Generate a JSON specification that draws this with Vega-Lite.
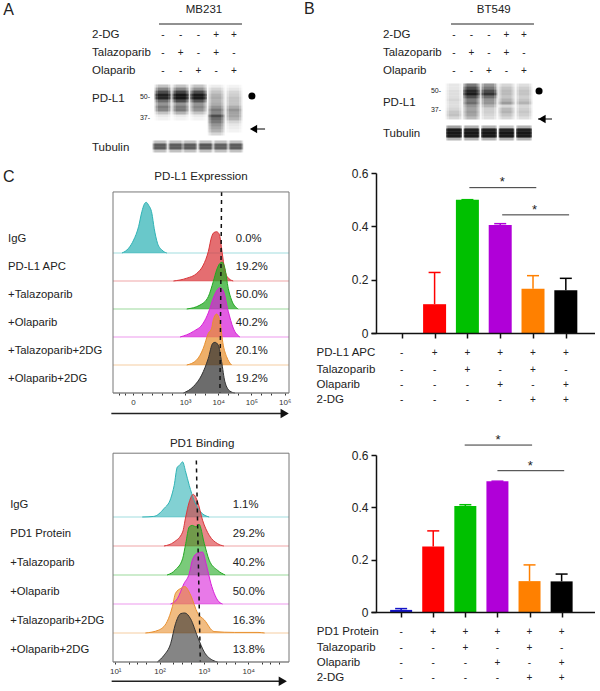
{"$schema":"https://vega.github.io/schema/vega-lite/v6.json","padding":{"left":3,"top":0,"right":0,"bottom":0},"background":"white","bounds":"flush","columns":2,"spacing":{"row":122,"column":82},"resolve":{"scale":{"color":"independent","opacity":"independent"}},"config":{"font":"Liberation Sans","view":{"stroke":null},"text":{"color":"#222"}},
"datasets":{
"blotA":[
{"x":1,"y":28.67,"v":0.15},{"x":2,"y":28.67,"v":0.15},{"x":3,"y":28.67,"v":0.15},{"x":4,"y":28.67,"v":0.04},{"x":5,"y":28.67,"v":0.03},
{"x":1,"y":29.67,"v":0.35},{"x":2,"y":29.67,"v":0.35},{"x":3,"y":29.67,"v":0.3},{"x":4,"y":29.67,"v":0.1},{"x":5,"y":29.67,"v":0.06},
{"x":1,"y":30.67,"v":0.6},{"x":2,"y":30.67,"v":0.65},{"x":3,"y":30.67,"v":0.6},{"x":4,"y":30.67,"v":0.15},{"x":5,"y":30.67,"v":0.1},
{"x":1,"y":31.67,"v":0.9},{"x":2,"y":31.67,"v":1},{"x":3,"y":31.67,"v":0.95},{"x":4,"y":31.67,"v":0.2},{"x":5,"y":31.67,"v":0.12},
{"x":1,"y":32.67,"v":0.85},{"x":2,"y":32.67,"v":1},{"x":3,"y":32.67,"v":0.95},{"x":4,"y":32.67,"v":0.22},{"x":5,"y":32.67,"v":0.15},
{"x":1,"y":33.67,"v":0.45},{"x":2,"y":33.67,"v":0.6},{"x":3,"y":33.67,"v":0.55},{"x":4,"y":33.67,"v":0.2},{"x":5,"y":33.67,"v":0.15},
{"x":1,"y":34.67,"v":0.3},{"x":2,"y":34.67,"v":0.3},{"x":3,"y":34.67,"v":0.3},{"x":4,"y":34.67,"v":0.22},{"x":5,"y":34.67,"v":0.15},
{"x":1,"y":35.67,"v":0.4},{"x":2,"y":35.67,"v":0.4},{"x":3,"y":35.67,"v":0.35},{"x":4,"y":35.67,"v":0.3},{"x":5,"y":35.67,"v":0.22},
{"x":1,"y":36.67,"v":0.35},{"x":2,"y":36.67,"v":0.4},{"x":3,"y":36.67,"v":0.3},{"x":4,"y":36.67,"v":0.4},{"x":5,"y":36.67,"v":0.3},
{"x":1,"y":37.67,"v":0.15},{"x":2,"y":37.67,"v":0.2},{"x":3,"y":37.67,"v":0.15},{"x":4,"y":37.67,"v":0.35},{"x":5,"y":37.67,"v":0.25},
{"x":1,"y":38.67,"v":0.05},{"x":2,"y":38.67,"v":0.05},{"x":3,"y":38.67,"v":0.05},{"x":4,"y":38.67,"v":0.6},{"x":5,"y":38.67,"v":0.25},
{"x":1,"y":39.67,"v":0.03},{"x":2,"y":39.67,"v":0.03},{"x":3,"y":39.67,"v":0.03},{"x":4,"y":39.67,"v":0.45},{"x":5,"y":39.67,"v":0.2},
{"x":4,"y":40.67,"v":0.4},{"x":5,"y":40.67,"v":0.1},
{"x":4,"y":41.67,"v":0.3},{"x":5,"y":41.67,"v":0.06},
{"x":4,"y":42.67,"v":0.25},{"x":5,"y":42.67,"v":0.04},
{"x":4,"y":43.67,"v":0.2},{"x":5,"y":43.67,"v":0.03},
{"x":4,"y":44.67,"v":0.1}],
"tubA":[
{"x":0.83,"y":47.33,"v":0.16},{"x":1.71,"y":47.33,"v":0.16},{"x":2.52,"y":47.33,"v":0.16},{"x":3.4,"y":47.33,"v":0.16},{"x":4.25,"y":47.33,"v":0.16},{"x":5.1,"y":47.33,"v":0.16},
{"x":0.83,"y":48.33,"v":0.52},{"x":1.71,"y":48.33,"v":0.52},{"x":2.52,"y":48.33,"v":0.52},{"x":3.4,"y":48.33,"v":0.55},{"x":4.25,"y":48.33,"v":0.5},{"x":5.1,"y":48.33,"v":0.52},
{"x":0.83,"y":49.33,"v":0.52},{"x":1.71,"y":49.33,"v":0.52},{"x":2.52,"y":49.33,"v":0.52},{"x":3.4,"y":49.33,"v":0.52},{"x":4.25,"y":49.33,"v":0.5},{"x":5.1,"y":49.33,"v":0.52},
{"x":0.83,"y":50.33,"v":0.16},{"x":1.71,"y":50.33,"v":0.16},{"x":2.52,"y":50.33,"v":0.16},{"x":3.4,"y":50.33,"v":0.16},{"x":4.25,"y":50.33,"v":0.16},{"x":5.1,"y":50.33,"v":0.16}],
"blotB":[
{"x":1,"y":28.33,"v":0.06},{"x":2,"y":28.33,"v":0.4},{"x":3,"y":28.33,"v":0.3},{"x":4,"y":28.33,"v":0.1},{"x":5,"y":28.33,"v":0.08},
{"x":1,"y":29.33,"v":0.06},{"x":2,"y":29.33,"v":0.6},{"x":3,"y":29.33,"v":0.4},{"x":4,"y":29.33,"v":0.15},{"x":5,"y":29.33,"v":0.12},
{"x":1,"y":30.33,"v":0.08},{"x":2,"y":30.33,"v":0.85},{"x":3,"y":30.33,"v":0.6},{"x":4,"y":30.33,"v":0.18},{"x":5,"y":30.33,"v":0.15},
{"x":1,"y":31.33,"v":0.08},{"x":2,"y":31.33,"v":0.95},{"x":3,"y":31.33,"v":0.75},{"x":4,"y":31.33,"v":0.18},{"x":5,"y":31.33,"v":0.15},
{"x":1,"y":32.33,"v":0.08},{"x":2,"y":32.33,"v":0.6},{"x":3,"y":32.33,"v":0.45},{"x":4,"y":32.33,"v":0.15},{"x":5,"y":32.33,"v":0.12},
{"x":1,"y":33.33,"v":0.1},{"x":2,"y":33.33,"v":0.4},{"x":3,"y":33.33,"v":0.3},{"x":4,"y":33.33,"v":0.2},{"x":5,"y":33.33,"v":0.15},
{"x":1,"y":34.33,"v":0.08},{"x":2,"y":34.33,"v":0.45},{"x":3,"y":34.33,"v":0.3},{"x":4,"y":34.33,"v":0.28},{"x":5,"y":34.33,"v":0.2},
{"x":1,"y":35.33,"v":0.08},{"x":2,"y":35.33,"v":0.3},{"x":3,"y":35.33,"v":0.2},{"x":4,"y":35.33,"v":0.1},{"x":5,"y":35.33,"v":0.1},
{"x":1,"y":36.33,"v":0.1},{"x":2,"y":36.33,"v":0.25},{"x":3,"y":36.33,"v":0.12},{"x":4,"y":36.33,"v":0.18},{"x":5,"y":36.33,"v":0.12},
{"x":1,"y":37.33,"v":0.14},{"x":2,"y":37.33,"v":0.28},{"x":3,"y":37.33,"v":0.12},{"x":4,"y":37.33,"v":0.2},{"x":5,"y":37.33,"v":0.14},
{"x":1,"y":38.33,"v":0.16},{"x":2,"y":38.33,"v":0.25},{"x":3,"y":38.33,"v":0.1},{"x":4,"y":38.33,"v":0.15},{"x":5,"y":38.33,"v":0.12},
{"x":1,"y":39.33,"v":0.1},{"x":2,"y":39.33,"v":0.18},{"x":3,"y":39.33,"v":0.08},{"x":4,"y":39.33,"v":0.1},{"x":5,"y":39.33,"v":0.08}],
"tubB":[
{"x":1,"y":42.33,"v":0.25},{"x":2,"y":42.33,"v":0.2},{"x":3,"y":42.33,"v":0.2},{"x":4,"y":42.33,"v":0.15},{"x":5,"y":42.33,"v":0.2},
{"x":1,"y":43.33,"v":0.95},{"x":2,"y":43.33,"v":0.9},{"x":3,"y":43.33,"v":0.9},{"x":4,"y":43.33,"v":0.85},{"x":5,"y":43.33,"v":0.9},
{"x":1,"y":44.33,"v":1},{"x":2,"y":44.33,"v":1},{"x":3,"y":44.33,"v":1},{"x":4,"y":44.33,"v":1},{"x":5,"y":44.33,"v":1},
{"x":1,"y":45.33,"v":0.95},{"x":2,"y":45.33,"v":0.95},{"x":3,"y":45.33,"v":0.95},{"x":4,"y":45.33,"v":0.95},{"x":5,"y":45.33,"v":0.95},
{"x":1,"y":46.33,"v":0.2},{"x":2,"y":46.33,"v":0.2},{"x":3,"y":46.33,"v":0.2},{"x":4,"y":46.33,"v":0.2},{"x":5,"y":46.33,"v":0.2}],
"signs":[
{"x":1,"y":11.67,"t":"-"},{"x":2,"y":11.67,"t":"-"},{"x":3,"y":11.67,"t":"-"},{"x":4,"y":11.67,"t":"+"},{"x":5,"y":11.67,"t":"+"},
{"x":1,"y":17.57,"t":"-"},{"x":2,"y":17.57,"t":"+"},{"x":3,"y":17.57,"t":"-"},{"x":4,"y":17.57,"t":"+"},{"x":5,"y":17.57,"t":"-"},
{"x":1,"y":23.57,"t":"-"},{"x":2,"y":23.57,"t":"-"},{"x":3,"y":23.57,"t":"+"},{"x":4,"y":23.57,"t":"-"},{"x":5,"y":23.57,"t":"+"}],
"histA":[
{"s":"a","x":1.1,"y":5,"y2":5},{"s":"a","x":1.3,"y":5.17,"y2":5},{"s":"a","x":1.45,"y":5.46,"y2":5},{"s":"a","x":1.6,"y":5.94,"y2":5},{"s":"a","x":1.7,"y":6.48,"y2":5},{"s":"a","x":1.77,"y":6.74,"y2":5},{"s":"a","x":1.83,"y":6.81,"y2":5},{"s":"a","x":1.9,"y":6.71,"y2":5},{"s":"a","x":2,"y":6.42,"y2":5},{"s":"a","x":2.07,"y":5.88,"y2":5},{"s":"a","x":2.17,"y":5.35,"y2":5},{"s":"a","x":2.3,"y":5.11,"y2":5},{"s":"a","x":2.45,"y":5,"y2":5},
{"s":"b","x":2.65,"y":4,"y2":4},{"s":"b","x":3.05,"y":4.1,"y2":4},{"s":"b","x":3.35,"y":4.27,"y2":4},{"s":"b","x":3.55,"y":4.57,"y2":4},{"s":"b","x":3.7,"y":5.05,"y2":4},{"s":"b","x":3.8,"y":5.58,"y2":4},{"s":"b","x":3.87,"y":5.73,"y2":4},{"s":"b","x":3.95,"y":5.76,"y2":4},{"s":"b","x":4.03,"y":5.67,"y2":4},{"s":"b","x":4.1,"y":5.17,"y2":4},{"s":"b","x":4.17,"y":4.57,"y2":4},{"s":"b","x":4.27,"y":4.15,"y2":4},{"s":"b","x":4.45,"y":4,"y2":4},
{"s":"c","x":3.05,"y":3,"y2":3},{"s":"c","x":3.45,"y":3.14,"y2":3},{"s":"c","x":3.7,"y":3.44,"y2":3},{"s":"c","x":3.85,"y":3.98,"y2":3},{"s":"c","x":3.95,"y":4.39,"y2":3},{"s":"c","x":4.05,"y":4.63,"y2":3},{"s":"c","x":4.12,"y":4.67,"y2":3},{"s":"c","x":4.2,"y":4.45,"y2":3},{"s":"c","x":4.3,"y":3.74,"y2":3},{"s":"c","x":4.4,"y":3.32,"y2":3},{"s":"c","x":4.6,"y":3,"y2":3},
{"s":"d","x":2.85,"y":2,"y2":2},{"s":"d","x":3.25,"y":2.2,"y2":2},{"s":"d","x":3.55,"y":2.5,"y2":2},{"s":"d","x":3.7,"y":2.86,"y2":2},{"s":"d","x":3.85,"y":3.39,"y2":2},{"s":"d","x":3.95,"y":3.65,"y2":2},{"s":"d","x":4.05,"y":3.76,"y2":2},{"s":"d","x":4.15,"y":3.65,"y2":2},{"s":"d","x":4.3,"y":2.92,"y2":2},{"s":"d","x":4.45,"y":2.32,"y2":2},{"s":"d","x":4.65,"y":2,"y2":2},
{"s":"e","x":3.05,"y":1,"y2":1},{"s":"e","x":3.35,"y":1.18,"y2":1},{"s":"e","x":3.55,"y":1.6,"y2":1},{"s":"e","x":3.7,"y":2.13,"y2":1},{"s":"e","x":3.8,"y":2.31,"y2":1},{"s":"e","x":3.85,"y":2.61,"y2":1},{"s":"e","x":3.95,"y":2.82,"y2":1},{"s":"e","x":4.05,"y":2.55,"y2":1},{"s":"e","x":4.15,"y":1.71,"y2":1},{"s":"e","x":4.25,"y":1.3,"y2":1},{"s":"e","x":4.4,"y":1,"y2":1},
{"s":"f","x":2.95,"y":0,"y2":0},{"s":"f","x":3.25,"y":0.23,"y2":0},{"s":"f","x":3.5,"y":0.64,"y2":0},{"s":"f","x":3.7,"y":1.24,"y2":0},{"s":"f","x":3.83,"y":1.77,"y2":0},{"s":"f","x":3.9,"y":1.81,"y2":0},{"s":"f","x":4,"y":1.71,"y2":0},{"s":"f","x":4.1,"y":1.12,"y2":0},{"s":"f","x":4.2,"y":0.4,"y2":0},{"s":"f","x":4.35,"y":0.07,"y2":0},{"s":"f","x":4.5,"y":0,"y2":0}],
"histB":[
{"s":"a","x":1.61,"y":5,"y2":5},{"s":"a","x":1.87,"y":5.02,"y2":5},{"s":"a","x":2.1,"y":5.29,"y2":5},{"s":"a","x":2.25,"y":5.63,"y2":5},{"s":"a","x":2.33,"y":6.09,"y2":5},{"s":"a","x":2.4,"y":6.72,"y2":5},{"s":"a","x":2.45,"y":6.78,"y2":5},{"s":"a","x":2.52,"y":6.9,"y2":5},{"s":"a","x":2.59,"y":6.55,"y2":5},{"s":"a","x":2.67,"y":6.09,"y2":5},{"s":"a","x":2.78,"y":5.57,"y2":5},{"s":"a","x":2.93,"y":5.17,"y2":5},{"s":"a","x":3.12,"y":5,"y2":5},
{"s":"b","x":2.1,"y":4,"y2":4},{"s":"b","x":2.33,"y":4.14,"y2":4},{"s":"b","x":2.52,"y":4.48,"y2":4},{"s":"b","x":2.59,"y":5,"y2":4},{"s":"b","x":2.67,"y":5.52,"y2":4},{"s":"b","x":2.76,"y":5.78,"y2":4},{"s":"b","x":2.86,"y":5.52,"y2":4},{"s":"b","x":2.97,"y":4.89,"y2":4},{"s":"b","x":3.12,"y":4.37,"y2":4},{"s":"b","x":3.31,"y":4.08,"y2":4},{"s":"b","x":3.45,"y":4,"y2":4},
{"s":"c","x":2.17,"y":3,"y2":3},{"s":"c","x":2.36,"y":3.18,"y2":3},{"s":"c","x":2.52,"y":3.56,"y2":3},{"s":"c","x":2.59,"y":4.08,"y2":3},{"s":"c","x":2.67,"y":4.66,"y2":3},{"s":"c","x":2.74,"y":4.71,"y2":3},{"s":"c","x":2.82,"y":4.66,"y2":3},{"s":"c","x":2.89,"y":4.75,"y2":3},{"s":"c","x":3.01,"y":4.08,"y2":3},{"s":"c","x":3.12,"y":3.51,"y2":3},{"s":"c","x":3.31,"y":3.16,"y2":3},{"s":"c","x":3.48,"y":3,"y2":3},
{"s":"d","x":2.25,"y":2,"y2":2},{"s":"d","x":2.4,"y":2.18,"y2":2},{"s":"d","x":2.55,"y":2.7,"y2":2},{"s":"d","x":2.67,"y":3.05,"y2":2},{"s":"d","x":2.74,"y":3.51,"y2":2},{"s":"d","x":2.86,"y":3.76,"y2":2},{"s":"d","x":2.97,"y":3.79,"y2":2},{"s":"d","x":3.05,"y":3.39,"y2":2},{"s":"d","x":3.16,"y":2.7,"y2":2},{"s":"d","x":3.31,"y":2.13,"y2":2},{"s":"d","x":3.42,"y":2,"y2":2},
{"s":"e","x":1.68,"y":1,"y2":1},{"s":"e","x":1.98,"y":1.1,"y2":1},{"s":"e","x":2.17,"y":1.39,"y2":1},{"s":"e","x":2.29,"y":1.91,"y2":1},{"s":"e","x":2.36,"y":2.37,"y2":1},{"s":"e","x":2.48,"y":2.54,"y2":1},{"s":"e","x":2.57,"y":2.6,"y2":1},{"s":"e","x":2.7,"y":2.31,"y2":1},{"s":"e","x":2.86,"y":1.68,"y2":1},{"s":"e","x":3.01,"y":1.45,"y2":1},{"s":"e","x":3.23,"y":1.05,"y2":1},{"s":"e","x":3.69,"y":1.02,"y2":1},{"s":"e","x":4.22,"y":1.02,"y2":1},{"s":"e","x":4.37,"y":1,"y2":1},
{"s":"f","x":1.95,"y":0,"y2":0},{"s":"f","x":2.1,"y":0.23,"y2":0},{"s":"f","x":2.25,"y":0.63,"y2":0},{"s":"f","x":2.36,"y":1.32,"y2":0},{"s":"f","x":2.48,"y":1.67,"y2":0},{"s":"f","x":2.57,"y":1.69,"y2":0},{"s":"f","x":2.7,"y":1.49,"y2":0},{"s":"f","x":2.86,"y":0.86,"y2":0},{"s":"f","x":3.01,"y":0.34,"y2":0},{"s":"f","x":3.2,"y":0.06,"y2":0},{"s":"f","x":3.31,"y":0,"y2":0}],
"tableSigns":[
{"x":1,"y":-0.075,"t":"-"},{"x":2,"y":-0.075,"t":"+"},{"x":3,"y":-0.075,"t":"+"},{"x":4,"y":-0.075,"t":"+"},{"x":5,"y":-0.075,"t":"+"},{"x":6,"y":-0.075,"t":"+"},
{"x":1,"y":-0.137,"t":"-"},{"x":2,"y":-0.137,"t":"-"},{"x":3,"y":-0.137,"t":"+"},{"x":4,"y":-0.137,"t":"-"},{"x":5,"y":-0.137,"t":"+"},{"x":6,"y":-0.137,"t":"-"},
{"x":1,"y":-0.195,"t":"-"},{"x":2,"y":-0.195,"t":"-"},{"x":3,"y":-0.195,"t":"-"},{"x":4,"y":-0.195,"t":"+"},{"x":5,"y":-0.195,"t":"-"},{"x":6,"y":-0.195,"t":"+"},
{"x":1,"y":-0.252,"t":"-"},{"x":2,"y":-0.252,"t":"-"},{"x":3,"y":-0.252,"t":"-"},{"x":4,"y":-0.252,"t":"-"},{"x":5,"y":-0.252,"t":"+"},{"x":6,"y":-0.252,"t":"+"}]
},
"concat":[
{"width":176,"height":51,
"encoding":{"x":{"field":"x","type":"quantitative","scale":{"domain":[-1.817,8.099],"nice":false,"zero":false},"axis":null},"y":{"field":"y","type":"quantitative","scale":{"domain":[17,0],"nice":false,"zero":false},"axis":null}},
"layer":[
{"data":{"name":"blotA"},"mark":{"type":"rect","width":17,"height":3,"fill":"#000"},"encoding":{"opacity":{"field":"v","type":"quantitative","scale":{"domain":[0,1],"range":[0,0.55]},"legend":null}}},
{"data":{"name":"blotA"},"mark":{"type":"rect","width":14,"height":3,"fill":"#000"},"encoding":{"opacity":{"field":"v","type":"quantitative","scale":{"domain":[0,1],"range":[0,0.55]},"legend":null}}},
{"data":{"name":"blotA"},"mark":{"type":"rect","width":10,"height":3,"fill":"#000"},"encoding":{"opacity":{"field":"v","type":"quantitative","scale":{"domain":[0,1],"range":[0,0.55]},"legend":null}}},
{"data":{"name":"tubA"},"mark":{"type":"rect","width":15,"height":3,"fill":"#000"},"encoding":{"opacity":{"field":"v","type":"quantitative","scale":{"domain":[0,1],"range":[0,0.55]},"legend":null}}},
{"data":{"name":"tubA"},"mark":{"type":"rect","width":13,"height":3,"fill":"#000"},"encoding":{"opacity":{"field":"v","type":"quantitative","scale":{"domain":[0,1],"range":[0,0.55]},"legend":null}}},
{"data":{"name":"tubA"},"mark":{"type":"rect","width":11,"height":3,"fill":"#000"},"encoding":{"opacity":{"field":"v","type":"quantitative","scale":{"domain":[0,1],"range":[0,0.55]},"legend":null}}},
{"data":{"name":"signs"},"mark":{"type":"text","fontSize":10,"baseline":"middle"},"encoding":{"text":{"field":"t"}}},
{"data":{"values":[{"x":-3,"y":11.67,"t":"2-DG"},{"x":-3,"y":17.57,"t":"Talazoparib"},{"x":-3,"y":23.57,"t":"Olaparib"},{"x":-3,"y":33,"t":"PD-L1"},{"x":-3,"y":49.33,"t":"Tubulin"}]},"mark":{"type":"text","fontSize":11.5,"align":"left","baseline":"middle"},"encoding":{"text":{"field":"t"}}},
{"data":{"values":[{"x":0.27,"y":32.33,"t":"50-"},{"x":0.27,"y":39.33,"t":"37-"}]},"mark":{"type":"text","fontSize":7,"align":"right","baseline":"middle"},"encoding":{"text":{"field":"t"}}},
{"data":{"values":[{"x":3.31,"y":3.33,"t":"MB231"}]},"mark":{"type":"text","fontSize":11.5,"align":"center","baseline":"middle"},"encoding":{"text":{"field":"t"}}},
{"data":{"values":[{"x":-8,"y":3.33,"t":"A"}]},"mark":{"type":"text","fontSize":16,"align":"left","baseline":"middle"},"encoding":{"text":{"field":"t"}}},
{"data":{"values":[{"x":0.775,"x2":5.45,"y":8}]},"mark":{"type":"rule","color":"#222","strokeWidth":1},"encoding":{"x2":{"field":"x2"}}},
{"data":{"values":[{"x":6.01,"y":32}]},"mark":{"type":"point","shape":"circle","filled":true,"color":"#000","size":50,"opacity":1}},
{"data":{"values":[{"x":6.1,"y":43}]},"mark":{"type":"point","shape":"triangle-left","filled":true,"color":"#000","size":70,"opacity":1}},
{"data":{"values":[{"x":6.0,"x2":6.75,"y":43}]},"mark":{"type":"rule","color":"#000","strokeWidth":1},"encoding":{"x2":{"field":"x2"}}}
]},
{"width":224,"height":51,
"encoding":{"x":{"field":"x","type":"quantitative","scale":{"domain":[-3.743,9.057],"nice":false,"zero":false},"axis":null},"y":{"field":"y","type":"quantitative","scale":{"domain":[17,0],"nice":false,"zero":false},"axis":null}},
"layer":[
{"data":{"name":"blotB"},"mark":{"type":"rect","width":17,"height":3,"fill":"#000"},"encoding":{"opacity":{"field":"v","type":"quantitative","scale":{"domain":[0,1],"range":[0,0.55]},"legend":null}}},
{"data":{"name":"blotB"},"mark":{"type":"rect","width":14,"height":3,"fill":"#000"},"encoding":{"opacity":{"field":"v","type":"quantitative","scale":{"domain":[0,1],"range":[0,0.55]},"legend":null}}},
{"data":{"name":"blotB"},"mark":{"type":"rect","width":10,"height":3,"fill":"#000"},"encoding":{"opacity":{"field":"v","type":"quantitative","scale":{"domain":[0,1],"range":[0,0.55]},"legend":null}}},
{"data":{"name":"tubB"},"mark":{"type":"rect","width":16,"height":3,"fill":"#000"},"encoding":{"opacity":{"field":"v","type":"quantitative","scale":{"domain":[0,1],"range":[0,0.55]},"legend":null}}},
{"data":{"name":"tubB"},"mark":{"type":"rect","width":15,"height":3,"fill":"#000"},"encoding":{"opacity":{"field":"v","type":"quantitative","scale":{"domain":[0,1],"range":[0,0.55]},"legend":null}}},
{"data":{"name":"tubB"},"mark":{"type":"rect","width":13,"height":3,"fill":"#000"},"encoding":{"opacity":{"field":"v","type":"quantitative","scale":{"domain":[0,1],"range":[0,0.55]},"legend":null}}},
{"data":{"name":"signs"},"mark":{"type":"text","fontSize":10,"baseline":"middle"},"encoding":{"text":{"field":"t"}}},
{"data":{"values":[{"x":-3.06,"y":11.67,"t":"2-DG"},{"x":-3.06,"y":17.57,"t":"Talazoparib"},{"x":-3.06,"y":23.57,"t":"Olaparib"},{"x":-3.06,"y":34.33,"t":"PD-L1"},{"x":-3.06,"y":44.67,"t":"Tubulin"}]},"mark":{"type":"text","fontSize":11.5,"align":"left","baseline":"middle"},"encoding":{"text":{"field":"t"}}},
{"data":{"values":[{"x":0.26,"y":30.33,"t":"50-"},{"x":0.26,"y":36.67,"t":"37-"}]},"mark":{"type":"text","fontSize":7,"align":"right","baseline":"middle"},"encoding":{"text":{"field":"t"}}},
{"data":{"values":[{"x":3.27,"y":3.33,"t":"BT549"}]},"mark":{"type":"text","fontSize":11.5,"align":"center","baseline":"middle"},"encoding":{"text":{"field":"t"}}},
{"data":{"values":[{"x":-7.57,"y":3,"t":"B"}]},"mark":{"type":"text","fontSize":16,"align":"left","baseline":"middle"},"encoding":{"text":{"field":"t"}}},
{"data":{"values":[{"x":0.83,"x2":5.57,"y":8}]},"mark":{"type":"rule","color":"#222","strokeWidth":1},"encoding":{"x2":{"field":"x2"}}},
{"data":{"values":[{"x":5.86,"y":30.33}]},"mark":{"type":"point","shape":"circle","filled":true,"color":"#000","size":50,"opacity":1}},
{"data":{"values":[{"x":6.03,"y":39.67}]},"mark":{"type":"point","shape":"triangle-left","filled":true,"color":"#000","size":70,"opacity":1}},
{"data":{"values":[{"x":5.8,"x2":6.6,"y":39.67}]},"mark":{"type":"rule","color":"#000","strokeWidth":1},"encoding":{"x2":{"field":"x2"}}}
]},
{"width":176,"height":160,
"encoding":{"x":{"field":"x","type":"quantitative","scale":{"domain":[0.83,6.13],"nice":false,"zero":false},"axis":{"values":[1,1.2,1.43,1.7,2,2.3,2.6,3,3.3,3.6,4,4.3,4.6,5,5.3,5.6,6],"offset":60,"title":null,"grid":false,"domain":false,"tickSize":2,"tickColor":"#333","labelFontSize":8,"labelColor":"#333","labelPadding":3,"labelOverlap":false,"labelExpr":"datum.value==1.43?'0':datum.value==3?'10³':datum.value==4?'10⁴':datum.value==5?'10⁵':datum.value==6?'10⁶':''"}},"y":{"field":"y","type":"quantitative","scale":{"domain":[2.143,7.857],"nice":false,"zero":false},"axis":null}},
"layer":[
{"data":{"values":[{"s":"a","x":0.83,"x2":6.13,"y":5},{"s":"b","x":0.83,"x2":6.13,"y":4},{"s":"c","x":0.83,"x2":6.13,"y":3},{"s":"d","x":0.83,"x2":6.13,"y":2},{"s":"e","x":0.83,"x2":6.13,"y":1},{"s":"f","x":0.83,"x2":6.13,"y":0}]},"mark":{"type":"rule","strokeWidth":1.5,"opacity":0.3},"encoding":{"x2":{"field":"x2"},"color":{"field":"s","type":"nominal","legend":null,"scale":{"domain":["a","b","c","d","e","f"],"range":["#2fb3b5","#d9363a","#22a822","#d81fd8","#e8902f","#333333"]}}}},
{"data":{"name":"histA"},"mark":{"type":"area","interpolate":"monotone","opacity":0.72},"encoding":{"y2":{"field":"y2"},"color":{"field":"s","type":"nominal","legend":null,"scale":{"domain":["a","b","c","d","e","f"],"range":["#2fb3b5","#d9363a","#22a822","#d81fd8","#e8902f","#333333"]}}}},
{"data":{"name":"histA"},"mark":{"type":"line","interpolate":"monotone","strokeWidth":1},"encoding":{"color":{"field":"s","type":"nominal","legend":null,"scale":{"domain":["a","b","c","d","e","f"],"range":["#2fb3b5","#d9363a","#22a822","#d81fd8","#e8902f","#333333"]}}}},
{"data":{"values":[{"x":4.1,"x2":4.05,"y":7.18,"y2":0}]},"mark":{"type":"rule","color":"#111","strokeWidth":1.5,"strokeDash":[4,4]},"encoding":{"x2":{"field":"x2"},"y2":{"field":"y2"}}},
{"data":{"values":[{"x":0.83,"x2":6.13,"y":0,"y2":7.18}]},"mark":{"type":"rect","fill":null,"stroke":"#777","strokeWidth":1},"encoding":{"x2":{"field":"x2"},"y2":{"field":"y2"}}},
{"data":{"values":[{"x":-2.33,"y":5.5,"t":"IgG"},{"x":-2.33,"y":4.5,"t":"PD-L1 APC"},{"x":-2.33,"y":3.5,"t":"+Talazoparib"},{"x":-2.33,"y":2.5,"t":"+Olaparib"},{"x":-2.33,"y":1.5,"t":"+Talazoparib+2DG"},{"x":-2.33,"y":0.5,"t":"+Olaparib+2DG"},{"x":4.53,"y":5.5,"t":"0.0%"},{"x":4.53,"y":4.5,"t":"19.2%"},{"x":4.53,"y":3.5,"t":"50.0%"},{"x":4.53,"y":2.5,"t":"40.2%"},{"x":4.53,"y":1.5,"t":"20.1%"},{"x":4.53,"y":0.5,"t":"19.2%"}]},"mark":{"type":"text","fontSize":11.3,"align":"left","baseline":"middle"},"encoding":{"text":{"field":"t"}}},
{"data":{"values":[{"x":3.48,"y":7.71,"t":"PD-L1 Expression"}]},"mark":{"type":"text","fontSize":11.6,"align":"center","baseline":"middle"},"encoding":{"text":{"field":"t"}}},
{"data":{"values":[{"x":-2.48,"y":7.72,"t":"C"}]},"mark":{"type":"text","fontSize":16,"align":"left","baseline":"middle"},"encoding":{"text":{"field":"t"}}},
{"data":{"values":[{"x":0.78,"x2":6.0,"y":-0.73}]},"mark":{"type":"rule","color":"#222","strokeWidth":1.5},"encoding":{"x2":{"field":"x2"}}},
{"data":{"values":[{"x":6.0,"y":-0.73}]},"mark":{"type":"point","shape":"triangle-right","filled":true,"color":"#111","size":90,"opacity":1}}
]},
{"width":224,"height":160,
"encoding":{"x":{"field":"x","type":"quantitative","scale":{"domain":[0.214,6.737],"nice":false,"zero":false},"axis":{"values":[1,2,3,4,5,6],"labels":false,"title":null,"grid":false,"tickSize":5,"tickColor":"#111","tickWidth":1.5,"domainColor":"#111","domainWidth":1.5,"zindex":1}},"y":{"field":"y","type":"quantitative","scale":{"domain":[0,0.6],"nice":false,"zero":false},"axis":{"values":[0,0.2,0.4,0.6],"offset":-5,"title":null,"grid":false,"tickSize":5,"tickColor":"#111","tickWidth":1.5,"domainColor":"#111","domainWidth":1.5,"labelFontSize":12,"labelColor":"#222","labelPadding":3,"zindex":1,"labelExpr":"datum.value==0?'0':format(datum.value,'.1f')"}}},
"layer":[
{"data":{"values":[{"x":2,"y":0.108,"hi":0.227,"c":"b"},{"x":3,"y":0.5,"hi":0.5,"c":"c"},{"x":4,"y":0.405,"hi":0.41,"c":"d"},{"x":5,"y":0.166,"hi":0.215,"c":"e"},{"x":6,"y":0.16,"hi":0.205,"c":"f"}]},"layer":[
{"mark":{"type":"rule","strokeWidth":1.5},"encoding":{"y2":{"field":"hi"},"color":{"field":"c","type":"nominal","legend":null,"scale":{"domain":["a","b","c","d","e","f"],"range":["#1414c8","#ff0000","#00c000","#b000d8","#ff8000","#000000"]}}}},
{"mark":{"type":"tick","orient":"horizontal","size":12,"thickness":1.5,"opacity":1},"encoding":{"y":{"field":"hi","type":"quantitative"},"color":{"field":"c","type":"nominal","legend":null,"scale":{"domain":["a","b","c","d","e","f"],"range":["#1414c8","#ff0000","#00c000","#b000d8","#ff8000","#000000"]}}}},
{"mark":{"type":"bar","width":23,"orient":"vertical"},"encoding":{"color":{"field":"c","type":"nominal","legend":null,"scale":{"domain":["a","b","c","d","e","f"],"range":["#1414c8","#ff0000","#00c000","#b000d8","#ff8000","#000000"]}}}}
]},
{"data":{"values":[{"x":3.06,"x2":5.1,"y":0.545},{"x":4.06,"x2":6.1,"y":0.443}]},"mark":{"type":"rule","color":"#333","strokeWidth":1},"encoding":{"x2":{"field":"x2"}}},
{"data":{"values":[{"x":4.06,"y":0.578,"t":"*"},{"x":5.05,"y":0.474,"t":"*"}]},"mark":{"type":"text","fontSize":13,"baseline":"middle","dy":3},"encoding":{"text":{"field":"t"}}},
{"data":{"name":"tableSigns"},"mark":{"type":"text","fontSize":10,"baseline":"middle"},"encoding":{"text":{"field":"t"}}},
{"data":{"values":[{"x":-1.6,"y":-0.075,"t":"PD-L1 APC"},{"x":-1.6,"y":-0.137,"t":"Talazoparib"},{"x":-1.6,"y":-0.195,"t":"Olaparib"},{"x":-1.6,"y":-0.252,"t":"2-DG"}]},"mark":{"type":"text","fontSize":11.5,"align":"left","baseline":"middle"},"encoding":{"text":{"field":"t"}}}
]},
{"width":176,"height":157,
"encoding":{"x":{"field":"x","type":"quantitative","scale":{"domain":[0.95,4.92],"nice":false,"zero":false},"axis":{"values":[1,1.3,1.5,1.7,2,2.3,2.5,2.7,3,3.3,3.5,3.7,4,4.3,4.5,4.7],"offset":50,"title":null,"grid":false,"domain":false,"tickSize":2,"tickColor":"#333","labelFontSize":8,"labelColor":"#333","labelPadding":3,"labelOverlap":false,"labelExpr":"datum.value==1?'10¹':datum.value==2?'10²':datum.value==3?'10³':datum.value==4?'10⁴':''"}},"y":{"field":"y","type":"quantitative","scale":{"domain":[1.724,7.138],"nice":false,"zero":false},"axis":null}},
"layer":[
{"data":{"values":[{"s":"a","x":0.95,"x2":4.92,"y":5},{"s":"b","x":0.95,"x2":4.92,"y":4},{"s":"c","x":0.95,"x2":4.92,"y":3},{"s":"d","x":0.95,"x2":4.92,"y":2},{"s":"e","x":0.95,"x2":4.92,"y":1},{"s":"f","x":0.95,"x2":4.92,"y":0}]},"mark":{"type":"rule","strokeWidth":1.5,"opacity":0.3},"encoding":{"x2":{"field":"x2"},"color":{"field":"s","type":"nominal","legend":null,"scale":{"domain":["a","b","c","d","e","f"],"range":["#2fb3b5","#d9363a","#22a822","#d81fd8","#e8902f","#333333"]}}}},
{"data":{"name":"histB"},"mark":{"type":"area","interpolate":"monotone","opacity":0.6},"encoding":{"y2":{"field":"y2"},"color":{"field":"s","type":"nominal","legend":null,"scale":{"domain":["a","b","c","d","e","f"],"range":["#2fb3b5","#d9363a","#22a822","#d81fd8","#e8902f","#333333"]}}}},
{"data":{"name":"histB"},"mark":{"type":"line","interpolate":"monotone","strokeWidth":1},"encoding":{"color":{"field":"s","type":"nominal","legend":null,"scale":{"domain":["a","b","c","d","e","f"],"range":["#2fb3b5","#d9363a","#22a822","#d81fd8","#e8902f","#333333"]}}}},
{"data":{"values":[{"x":2.83,"x2":2.92,"y":6.95,"y2":0}]},"mark":{"type":"rule","color":"#111","strokeWidth":1.5,"strokeDash":[4,4]},"encoding":{"x2":{"field":"x2"},"y2":{"field":"y2"}}},
{"data":{"values":[{"x":0.95,"x2":4.92,"y":0,"y2":7.2}]},"mark":{"type":"rect","fill":null,"stroke":"#777","strokeWidth":1},"encoding":{"x2":{"field":"x2"},"y2":{"field":"y2"}}},
{"data":{"values":[{"x":-1.37,"y":5.42,"t":"IgG"},{"x":-1.37,"y":4.42,"t":"PD1 Protein"},{"x":-1.37,"y":3.42,"t":"+Talazoparib"},{"x":-1.37,"y":2.42,"t":"+Olaparib"},{"x":-1.37,"y":1.42,"t":"+Talazoparib+2DG"},{"x":-1.37,"y":0.42,"t":"+Olaparib+2DG"},{"x":3.65,"y":5.42,"t":"1.1%"},{"x":3.65,"y":4.42,"t":"29.2%"},{"x":3.65,"y":3.42,"t":"40.2%"},{"x":3.65,"y":2.42,"t":"50.0%"},{"x":3.65,"y":1.42,"t":"16.3%"},{"x":3.65,"y":0.42,"t":"13.8%"}]},"mark":{"type":"text","fontSize":11.3,"align":"left","baseline":"middle"},"encoding":{"text":{"field":"t"}}},
{"data":{"values":[{"x":2.96,"y":7.52,"t":"PD1 Binding"}]},"mark":{"type":"text","fontSize":11.6,"align":"center","baseline":"middle"},"encoding":{"text":{"field":"t"}}},
{"data":{"values":[{"x":0.92,"x2":4.78,"y":-0.66}]},"mark":{"type":"rule","color":"#222","strokeWidth":1.5},"encoding":{"x2":{"field":"x2"}}},
{"data":{"values":[{"x":4.78,"y":-0.66}]},"mark":{"type":"point","shape":"triangle-right","filled":true,"color":"#111","size":90,"opacity":1}}
]},
{"width":224,"height":157,
"encoding":{"x":{"field":"x","type":"quantitative","scale":{"domain":[0.217,6.884],"nice":false,"zero":false},"axis":{"values":[1,2,3,4,5,6],"labels":false,"title":null,"grid":false,"tickSize":5,"tickColor":"#111","tickWidth":1.5,"domainColor":"#111","domainWidth":1.5,"zindex":1}},"y":{"field":"y","type":"quantitative","scale":{"domain":[0,0.6],"nice":false,"zero":false},"axis":{"values":[0,0.2,0.4,0.6],"offset":-5,"title":null,"grid":false,"tickSize":5,"tickColor":"#111","tickWidth":1.5,"domainColor":"#111","domainWidth":1.5,"labelFontSize":12,"labelColor":"#222","labelPadding":3,"zindex":1,"labelExpr":"datum.value==0?'0':format(datum.value,'.1f')"}}},
"layer":[
{"data":{"values":[{"x":1,"y":0.008,"hi":0.013,"c":"a"},{"x":2,"y":0.25,"hi":0.31,"c":"b"},{"x":3,"y":0.405,"hi":0.41,"c":"c"},{"x":4,"y":0.5,"hi":0.5,"c":"d"},{"x":5,"y":0.118,"hi":0.18,"c":"e"},{"x":6,"y":0.117,"hi":0.145,"c":"f"}]},"layer":[
{"mark":{"type":"rule","strokeWidth":1.5},"encoding":{"y2":{"field":"hi"},"color":{"field":"c","type":"nominal","legend":null,"scale":{"domain":["a","b","c","d","e","f"],"range":["#1414c8","#ff0000","#00c000","#b000d8","#ff8000","#000000"]}}}},
{"mark":{"type":"tick","orient":"horizontal","size":12,"thickness":1.5,"opacity":1},"encoding":{"y":{"field":"hi","type":"quantitative"},"color":{"field":"c","type":"nominal","legend":null,"scale":{"domain":["a","b","c","d","e","f"],"range":["#1414c8","#ff0000","#00c000","#b000d8","#ff8000","#000000"]}}}},
{"mark":{"type":"bar","width":22,"orient":"vertical"},"encoding":{"color":{"field":"c","type":"nominal","legend":null,"scale":{"domain":["a","b","c","d","e","f"],"range":["#1414c8","#ff0000","#00c000","#b000d8","#ff8000","#000000"]}}}}
]},
{"data":{"values":[{"x":2.98,"x2":5.08,"y":0.638},{"x":4,"x2":6.08,"y":0.54}]},"mark":{"type":"rule","color":"#333","strokeWidth":1},"encoding":{"x2":{"field":"x2"}}},
{"data":{"values":[{"x":4.02,"y":0.67,"t":"*"},{"x":5.02,"y":0.57,"t":"*"}]},"mark":{"type":"text","fontSize":13,"baseline":"middle","dy":3},"encoding":{"text":{"field":"t"}}},
{"data":{"name":"tableSigns"},"mark":{"type":"text","fontSize":10,"baseline":"middle"},"encoding":{"text":{"field":"t"}}},
{"data":{"values":[{"x":-1.63,"y":-0.075,"t":"PD1 Protein"},{"x":-1.63,"y":-0.137,"t":"Talazoparib"},{"x":-1.63,"y":-0.195,"t":"Olaparib"},{"x":-1.63,"y":-0.252,"t":"2-DG"}]},"mark":{"type":"text","fontSize":11.5,"align":"left","baseline":"middle"},"encoding":{"text":{"field":"t"}}}
]}
]}
